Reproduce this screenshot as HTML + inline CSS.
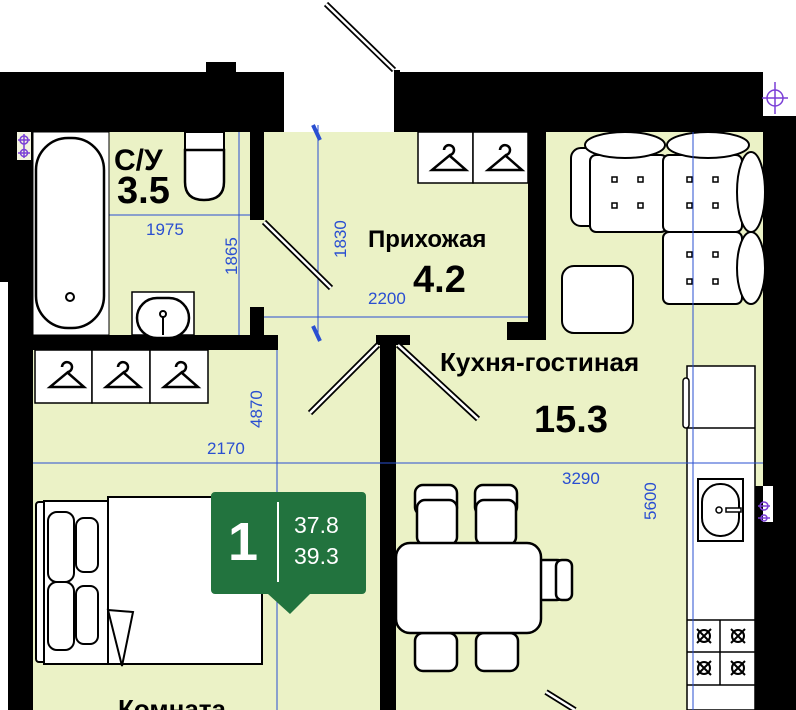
<!DOCTYPE html>
<html><head><meta charset="utf-8"><style>
html,body{margin:0;padding:0;background:#fff;width:796px;height:710px;overflow:hidden}
svg{display:block}
text{font-family:"Liberation Sans",sans-serif}
</style></head><body>
<svg width="796" height="710" viewBox="0 0 796 710" xmlns="http://www.w3.org/2000/svg">
<rect x="33" y="132" width="730" height="578" fill="#ebf2c6"/>
<path d="M326 4 L394 70" stroke="#000" stroke-width="6"/>
<path d="M326 4 L394 70" stroke="#fff" stroke-width="2.5"/>
<g fill="#000">
<rect x="0" y="72" width="284" height="60"/>
<rect x="206" y="62" width="30" height="12"/>
<rect x="0" y="72" width="33" height="210"/>
<rect x="8" y="280" width="25" height="430"/>
<rect x="250" y="132" width="14" height="88"/>
<rect x="250" y="307" width="14" height="30"/>
<rect x="33" y="335" width="245" height="15"/>
<rect x="394" y="72" width="369" height="60"/>
<rect x="394" y="70" width="6" height="62"/>
<rect x="763" y="116" width="33" height="370"/>
<rect x="755" y="486" width="41" height="224"/>
<rect x="528" y="132" width="18" height="208"/>
<rect x="507" y="322" width="39" height="18"/>
<rect x="380" y="335" width="16" height="375"/>
<rect x="376" y="335" width="34" height="10"/>
</g>
<rect x="763" y="486" width="10" height="36" fill="#fff"/>
<g stroke="#7a3fd6" fill="none" stroke-width="1.5">
<circle cx="775" cy="98" r="8"/><path d="M762 98H788M775 82V114"/>
<rect x="17" y="132" width="14" height="28" fill="#f3f3e0" stroke="none"/>
<circle cx="24" cy="140" r="4"/><circle cx="24" cy="153" r="3.5"/><path d="M18 140H30M18 153H30M24 134V158"/>
<circle cx="764" cy="506" r="4"/><circle cx="764" cy="518" r="3"/><path d="M758 506H770M758 518H770"/>
</g>
<g stroke="#2a4fd1" stroke-width="1" fill="none">
<path d="M33 215H250M239 132V335M318 125V340M264 317H528M277 350V710"/>
<path d="M313 125L320 140M313 326L320 341" stroke-width="4"/>
</g>
<g fill="#2a4fd1" font-size="17">
<text x="146" y="235">1975</text>
<text transform="translate(237,275) rotate(-90)">1865</text>
<text transform="translate(346,258) rotate(-90)">1830</text>
<text x="368" y="304">2200</text>
<text transform="translate(262,428) rotate(-90)">4870</text>
<text x="207" y="454">2170</text>
<text x="562" y="484">3290</text>
<text transform="translate(656,520) rotate(-90)">5600</text>
</g>
<rect x="33" y="132" width="76" height="203" fill="#fff" stroke="#000" stroke-width="1"/>
<rect x="36" y="138" width="68" height="190" rx="32" fill="#fff" stroke="#000" stroke-width="2.5"/>
<circle cx="70" cy="297" r="4" fill="none" stroke="#000" stroke-width="2"/>
<rect x="185" y="132" width="39" height="18" fill="#fff" stroke="#000" stroke-width="2"/>
<path d="M185 150V182Q185 200 204 200Q224 200 224 182V150Z" fill="#fff" stroke="#000" stroke-width="2.5"/>
<rect x="132" y="292" width="62" height="43" fill="#fff" stroke="#000" stroke-width="1.5"/>
<rect x="137" y="298" width="52" height="40" rx="20" fill="#fff" stroke="#000" stroke-width="2.5"/>
<circle cx="163" cy="314" r="3" fill="none" stroke="#000" stroke-width="2"/><path d="M163 317V335" stroke="#000" stroke-width="2"/>
<text x="114" y="170" font-size="30" font-weight="bold">С/У</text>
<text x="117" y="203" font-size="38" font-weight="bold">3.5</text>
<path d="M264 222L331 288" stroke="#000" stroke-width="6"/><path d="M264 222L331 288" stroke="#fff" stroke-width="2.5"/>
<g fill="#fff" stroke="#000" stroke-width="1.5">
<rect x="418" y="132" width="55" height="51"/><rect x="473" y="132" width="55" height="51"/>
<rect x="35" y="350" width="57" height="53"/><rect x="92" y="350" width="58" height="53"/><rect x="150" y="350" width="58" height="53"/>
</g>
<g fill="none" stroke="#000" stroke-width="2.5">
<path d="M444 150a5 5 0 1 1 6 5L432 170H466L450 156"/>
<path d="M500 150a5 5 0 1 1 6 5L488 170H522L506 156"/>
<path d="M62 367a5 5 0 1 1 6 5L50 387H84L68 373"/>
<path d="M118 367a5 5 0 1 1 6 5L106 387H140L124 373"/>
<path d="M176 367a5 5 0 1 1 6 5L164 387H198L182 373"/>
</g>
<text x="368" y="247" font-size="24" font-weight="bold">Прихожая</text>
<text x="413" y="292" font-size="38" font-weight="bold">4.2</text>
<path d="M378 345L310 413" stroke="#000" stroke-width="6"/><path d="M378 345L310 413" stroke="#fff" stroke-width="2.5"/>
<path d="M398 345L478 419" stroke="#000" stroke-width="6"/><path d="M398 345L478 419" stroke="#fff" stroke-width="2.5"/>
<path d="M546 692L575 710" stroke="#000" stroke-width="6"/><path d="M546 692L575 710" stroke="#fff" stroke-width="2.5"/>
<g fill="#fff" stroke="#000" stroke-width="2">
<rect x="571" y="148" width="32" height="78" rx="10"/>
<rect x="590" y="155" width="77" height="77" rx="6"/>
<rect x="663" y="155" width="79" height="77" rx="6"/>
<rect x="663" y="232" width="79" height="72" rx="6"/>
<ellipse cx="625" cy="145" rx="40" ry="13"/>
<ellipse cx="708" cy="145" rx="41" ry="13"/>
<ellipse cx="751" cy="192" rx="14" ry="40"/>
<ellipse cx="751" cy="268" rx="14" ry="36"/>
<rect x="562" y="266" width="71" height="67" rx="12"/>
</g>
<g fill="none" stroke="#000" stroke-width="1.5">
<rect x="612" y="177" width="5" height="5"/><rect x="638" y="177" width="5" height="5"/><rect x="612" y="203" width="5" height="5"/><rect x="638" y="203" width="5" height="5"/>
<rect x="687" y="177" width="5" height="5"/><rect x="713" y="177" width="5" height="5"/><rect x="687" y="203" width="5" height="5"/><rect x="713" y="203" width="5" height="5"/>
<rect x="687" y="252" width="5" height="5"/><rect x="713" y="252" width="5" height="5"/><rect x="687" y="279" width="5" height="5"/><rect x="713" y="279" width="5" height="5"/>
</g>
<text x="440" y="371" font-size="26" font-weight="bold">Кухня-гостиная</text>
<text x="534" y="432" font-size="38" font-weight="bold">15.3</text>
<rect x="687" y="366" width="68" height="344" fill="#fff" stroke="#000" stroke-width="1.5"/>
<rect x="683" y="378" width="6" height="50" rx="3" fill="#fff" stroke="#000" stroke-width="1.5"/>
<path d="M687 428H755M687 620H755M687 652H755M687 685H755M720 620V685" stroke="#000" stroke-width="1.5"/>
<rect x="698" y="479" width="45" height="62" fill="#fff" stroke="#000" stroke-width="2"/>
<rect x="702" y="484" width="37" height="52" rx="18" fill="#fff" stroke="#000" stroke-width="2"/>
<circle cx="719" cy="510" r="3" fill="none" stroke="#000" stroke-width="1.5"/><path d="M726 508H741V512H726Z" fill="#fff" stroke="#000" stroke-width="1.5"/>
<g fill="none" stroke="#000" stroke-width="2">
<circle cx="704" cy="636" r="6"/><path d="M697 629L711 643M711 629L697 643"/>
<circle cx="738" cy="636" r="6"/><path d="M731 629L745 643M745 629L731 643"/>
<circle cx="704" cy="668" r="6"/><path d="M697 661L711 675M711 661L697 675"/>
<circle cx="738" cy="668" r="6"/><path d="M731 661L745 675M745 661L731 675"/>
</g>
<!-- dims on top -->
<path d="M33 463H763M693 132V710" stroke="#2a4fd1" stroke-width="1" fill="none"/>
<g fill="#fff" stroke="#000" stroke-width="2.5">
<rect x="415" y="485" width="42" height="30" rx="8"/><rect x="417" y="500" width="40" height="45" rx="8"/>
<rect x="475" y="485" width="42" height="30" rx="8"/><rect x="476" y="500" width="40" height="45" rx="8"/>
<rect x="415" y="633" width="42" height="38" rx="8"/><rect x="476" y="633" width="42" height="38" rx="8"/>
<rect x="535" y="560" width="30" height="40" rx="8"/><rect x="556" y="560" width="16" height="40" rx="6"/>
<rect x="396" y="543" width="145" height="90" rx="14"/>
</g>
<g fill="#fff" stroke="#000" stroke-width="2">
<rect x="36" y="502" width="12" height="160" rx="3"/>
<rect x="44" y="501" width="218" height="163"/>
<rect x="108" y="497" width="154" height="167"/>
<rect x="48" y="512" width="26" height="70" rx="9"/><rect x="76" y="518" width="22" height="54" rx="8"/>
<rect x="48" y="582" width="26" height="68" rx="9"/><rect x="76" y="586" width="22" height="58" rx="8"/>
<path d="M108 610L133 612L122 666Z"/>
</g>
<path d="M215 492H362a4 4 0 0 1 4 4V590a4 4 0 0 1 -4 4H310L290 614L268 594H215a4 4 0 0 1 -4 -4V496a4 4 0 0 1 4 -4Z" fill="#22733e"/>
<path d="M278 502V582" stroke="#fff" stroke-width="2"/>
<text x="228" y="560" font-size="54" font-weight="bold" fill="#fff">1</text>
<text x="294" y="533" font-size="23" fill="#fff">37.8</text>
<text x="294" y="564" font-size="23" fill="#fff">39.3</text>
<text x="118" y="718" font-size="26" font-weight="bold">Комната</text>
</svg>
</body></html>
